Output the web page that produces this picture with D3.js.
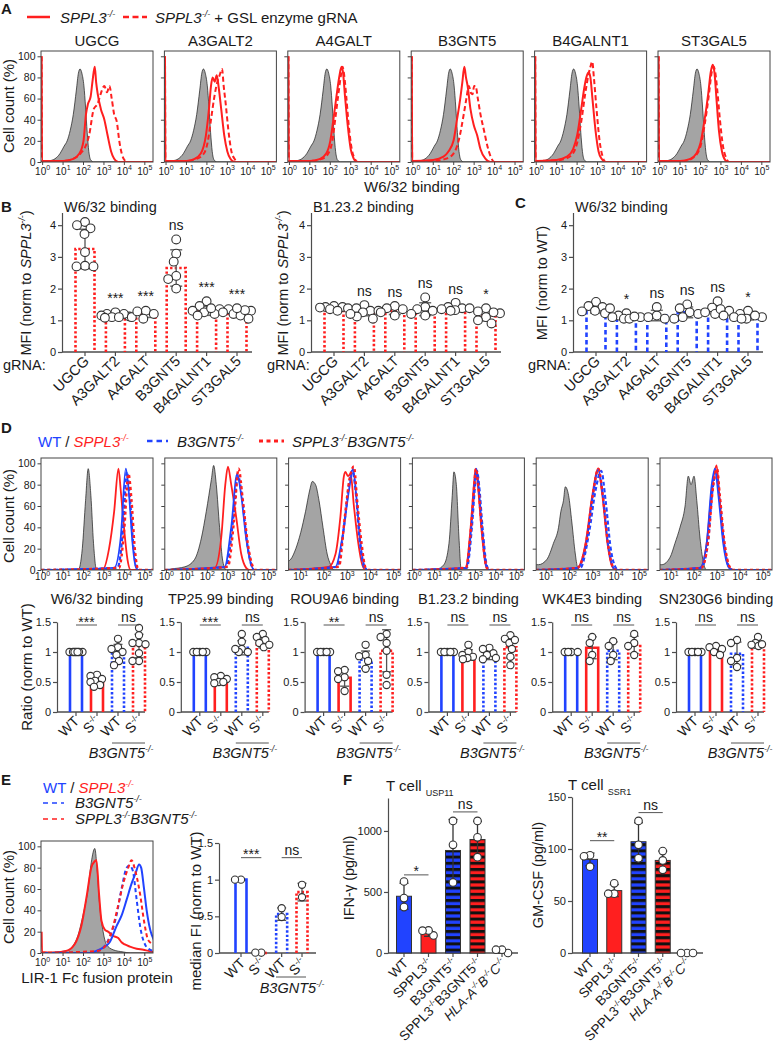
<!DOCTYPE html>
<html><head><meta charset="utf-8">
<script src="https://cdn.jsdelivr.net/npm/d3@7"></script>
<style>body{margin:0;background:#fff}svg{display:block}</style>
</head><body><svg id="chart" width="781" height="1050"></svg>
<script>
// ================= DATA =================
// Panel A: histograms [log10 fluorescence, % of max]
const aTitles = ["UGCG","A3GALT2","A4GALT","B3GNT5","B4GALNT1","ST3GAL5"];
const aGray = [[-0.08,0],[0.3,1],[0.6,3],[0.85,8],[1.05,15],[1.2,20],[1.35,30],[1.5,45],[1.65,68],[1.75,84],[1.83,88],[1.92,84],[2.02,72],[2.1,52],[2.18,28],[2.26,10],[2.35,2],[2.5,0],[5.4,0]];
const aSolid = [
 [[-0.05,100],[-0.03,1],[1.0,1],[1.5,3],[1.8,8],[2.0,20],[2.12,45],[2.22,55],[2.35,62],[2.45,78],[2.55,90],[2.62,75],[2.69,65],[2.85,50],[3.02,40],[3.18,25],[3.35,10],[3.5,3],[3.7,0],[5.4,0]],
 [[-0.05,100],[-0.03,1],[1.0,1],[1.4,3],[1.7,8],[1.95,25],[2.1,50],[2.2,72],[2.28,80],[2.38,76],[2.48,82],[2.58,70],[2.7,50],[2.85,25],[3.0,10],[3.15,3],[3.35,0],[5.4,0]],
 [[-0.05,100],[-0.03,1],[1.0,1],[1.5,3],[1.8,8],[2.0,20],[2.15,40],[2.3,62],[2.45,82],[2.55,90],[2.62,85],[2.72,62],[2.85,35],[3.0,12],[3.15,3],[3.3,0],[5.4,0]],
 [[-0.05,100],[-0.03,1],[1.0,2],[1.5,5],[1.74,10],[1.99,20],[2.16,40],[2.32,60],[2.42,75],[2.52,90],[2.6,80],[2.68,72],[2.82,50],[2.98,35],[3.15,25],[3.31,12],[3.56,3],[3.8,0],[5.4,0]],
 [[-0.05,100],[-0.03,1],[1.0,2],[1.5,5],[1.8,12],[2.0,25],[2.2,50],[2.35,70],[2.45,80],[2.57,85],[2.65,80],[2.75,60],[2.9,30],[3.05,10],[3.2,3],[3.4,0],[5.4,0]],
 [[-0.05,100],[-0.03,1],[1.0,1],[1.5,3],[1.8,8],[2.0,18],[2.2,40],[2.38,65],[2.5,85],[2.6,92],[2.68,85],[2.78,60],[2.9,30],[3.05,10],[3.2,2],[3.35,0],[5.4,0]]
];
const aDashed = [
 [[-0.05,100],[-0.03,1],[1.0,1],[1.35,2],[1.85,8],[2.1,15],[2.27,25],[2.5,50],[2.69,55],[2.85,65],[3.02,72],[3.15,66],[3.27,72],[3.38,60],[3.5,45],[3.63,38],[3.75,20],[3.87,8],[4.0,2],[4.2,0],[5.4,0]],
 [[-0.05,100],[-0.03,1],[1.0,1],[1.5,3],[1.85,8],[2.05,20],[2.2,40],[2.35,60],[2.5,75],[2.62,82],[2.74,88],[2.82,72],[2.92,55],[3.05,30],[3.2,10],[3.35,3],[3.5,0],[5.4,0]],
 [[-0.05,100],[-0.03,1],[1.0,1],[1.6,3],[1.9,8],[2.1,20],[2.25,42],[2.4,65],[2.52,82],[2.6,90],[2.68,82],[2.78,62],[2.9,35],[3.05,12],[3.2,3],[3.35,0],[5.4,0]],
 [[-0.05,100],[-0.03,1],[1.0,1],[1.6,3],[1.99,8],[2.24,20],[2.49,45],[2.62,60],[2.74,72],[2.85,65],[2.92,64],[3.0,72],[3.07,72],[3.18,60],[3.31,45],[3.48,30],[3.65,15],[3.81,5],[4.0,0],[5.4,0]],
 [[-0.05,100],[-0.03,1],[1.2,2],[1.7,6],[2.0,18],[2.2,38],[2.4,65],[2.55,82],[2.65,90],[2.74,95],[2.82,80],[2.95,50],[3.1,20],[3.25,5],[3.4,0],[5.4,0]],
 [[-0.05,100],[-0.03,1],[1.2,1],[1.7,5],[2.0,15],[2.2,35],[2.4,62],[2.55,85],[2.65,90],[2.72,85],[2.82,68],[2.95,40],[3.1,15],[3.25,4],[3.4,0],[5.4,0]]
];
const histTicksFull = [0,1,2,3,4,5];
const histTicksShort = [1,2,3,4,5];
const histYTicks = [0,20,40,60,80,100];

// Panel B / C
const bCats = ["UGCG","A3GALT2","A4GALT","B3GNT5","B4GALNT1","ST3GAL5"];
const bTicks = [0,1,2,3,4];
const bW6Bars = [3.25,1.1,1.2,2.65,1.3,1.2];
const bW6Pts = [[4.1,4.0,3.9,3.72,3.15,2.72,2.7,2.7],[1.12,1.2,1.25,1.2,1.1,1.1,1.15,1.08],[1.3,1.2,1.1,1.28,1.05],[3.55,3.1,2.85,2.4,2.3,2.0],[1.6,1.45,1.35,1.3,1.25,1.2,1.15,1.38],[1.35,1.3,1.25,1.2,1.15,1.05,1.32,1.38]];
const bW6Sig = ["","***","***","ns","***","***"];
const bB1Bars = [1.38,1.28,1.3,1.35,1.35,1.15];
const bB1Pts = [[1.45,1.42,1.42,1.38,1.35,1.3,1.4],[1.48,1.38,1.3,1.25,1.12,1.05,1.3,1.2],[1.45,1.38,1.25,1.15,1.35],[1.72,1.42,1.35,1.3,1.2,1.15],[1.55,1.42,1.38,1.32,1.35,1.3,1.38],[1.38,1.28,1.22,1.1,1.0,0.9,1.25]];
const bB1Sig = ["","ns","ns","ns","ns","*"];
const cBars = [1.35,1.1,1.15,1.25,1.3,1.1];
const cPts = [[1.58,1.45,1.42,1.3,1.22,1.28,1.38],[1.22,1.15,1.1,1.05,1.05,1.1,1.12],[1.42,1.15,1.05,1.1],[1.5,1.38,1.25,1.1,1.05,1.2],[1.6,1.4,1.3,1.25,1.2,1.35,1.15],[1.3,1.2,1.1,1.05,1.1,1.15,1.05]];
const cSig = ["","*","ns","ns","ns","*"];

// Panel D histograms
const dTitles = ["W6/32 binding","TP25.99 binding","ROU9A6 binding","B1.23.2 binding","WK4E3 binding","SN230G6 binding"];
const dDomains = [[-0.08,5.4],[-0.08,5.4],[0.48,5.3],[-0.08,5.4],[0.57,5.38],[0.52,5.39]];
const dGray = [
 [[-0.08,0],[1.74,0],[1.94,20],[2.1,65],[2.23,95],[2.36,70],[2.49,25],[2.64,0],[5.4,0]],
 [[-0.08,0],[0.24,1],[0.9,3],[1.38,10],[1.71,30],[1.95,55],[2.2,85],[2.31,98],[2.44,80],[2.6,40],[2.76,8],[2.93,0],[5.4,0]],
 [[0.45,8],[0.57,10],[0.79,20],[1.0,35],[1.21,55],[1.39,75],[1.5,83],[1.64,80],[1.79,65],[1.96,40],[2.14,15],[2.29,5],[2.43,0],[5.4,0]],
 [[-0.08,0],[1.14,1],[1.46,5],[1.71,25],[1.87,70],[1.95,92],[2.07,80],[2.2,30],[2.31,0],[5.4,0]],
 [[0.55,5],[0.67,5],[1.03,10],[1.31,25],[1.53,40],[1.63,55],[1.74,65],[1.82,78],[1.96,70],[2.1,45],[2.25,15],[2.34,3],[2.45,0],[5.4,0]],
 [[0.5,5],[0.6,5],[0.96,12],[1.17,25],[1.39,40],[1.61,60],[1.75,88],[1.87,80],[2.0,88],[2.12,65],[2.26,30],[2.4,8],[2.55,0],[5.4,0]]
];
const dRedSolid = [
 [[-0.08,0],[2.93,0],[3.25,20],[3.5,55],[3.71,95],[3.82,75],[3.98,40],[4.15,10],[4.31,0],[5.4,0]],
 [[-0.08,0],[2.36,2],[2.68,30],[2.88,80],[3.01,97],[3.17,80],[3.41,50],[3.66,15],[3.9,2],[4.05,0],[5.4,0]],
 [[0.45,0],[2.21,3],[2.5,15],[2.71,50],[2.86,88],[2.93,92],[3.03,88],[3.15,90],[3.29,60],[3.48,25],[3.65,5],[3.8,0],[5.4,0]],
 [[-0.08,0],[2.52,2],[2.77,40],[2.93,80],[3.01,95],[3.12,80],[3.29,40],[3.5,5],[3.62,0],[5.4,0]],
 [[0.55,0],[2.32,2],[2.69,25],[2.98,70],[3.22,95],[3.41,70],[3.63,25],[3.84,3],[4.0,0],[5.4,0]],
 [[0.5,0],[2.26,2],[2.55,25],[2.8,80],[2.98,98],[3.1,70],[3.3,25],[3.52,3],[3.7,0],[5.4,0]]
];
const dBlueSolid = [
 [[-0.08,0],[3.5,2],[3.82,30],[4.07,95],[4.23,70],[4.4,25],[4.56,3],[4.7,0],[5.4,0]],
 [[-0.08,0],[2.85,3],[3.17,40],[3.46,90],[3.66,70],[3.9,30],[4.15,5],[4.3,0],[5.4,0]],
 [[0.45,0],[2.5,3],[2.79,30],[3.08,75],[3.25,95],[3.39,70],[3.57,25],[3.76,3],[3.9,0],[5.4,0]],
 [[-0.08,0],[2.55,2],[2.8,40],[2.96,80],[3.05,95],[3.15,80],[3.32,40],[3.52,5],[3.65,0],[5.4,0]],
 [[0.55,0],[2.35,2],[2.72,25],[3.0,70],[3.24,94],[3.43,70],[3.65,25],[3.86,3],[4.0,0],[5.4,0]],
 [[0.5,0],[2.26,2],[2.55,25],[2.77,80],[2.91,95],[3.06,70],[3.27,25],[3.49,3],[3.65,0],[5.4,0]]
];
const dBlueDashed = [
 [[-0.08,0],[3.66,2],[3.94,40],[4.12,92],[4.26,70],[4.43,25],[4.6,2],[4.75,0],[5.4,0]],
 [[-0.08,0],[2.93,3],[3.25,45],[3.5,88],[3.69,70],[3.95,25],[4.18,3],[4.3,0],[5.4,0]],
 [[0.45,0],[2.57,3],[2.86,40],[3.08,80],[3.22,93],[3.36,75],[3.53,30],[3.72,3],[3.85,0],[5.4,0]],
 [[-0.08,0],[2.58,2],[2.83,40],[2.99,80],[3.08,93],[3.18,80],[3.35,40],[3.55,5],[3.68,0],[5.4,0]],
 [[0.55,0],[2.46,2],[2.84,35],[3.12,75],[3.36,93],[3.55,65],[3.77,20],[3.99,2],[4.1,0],[5.4,0]],
 [[0.5,0],[2.3,2],[2.6,25],[2.82,78],[2.95,90],[3.1,70],[3.3,25],[3.52,3],[3.68,0],[5.4,0]]
];
const dRedDashed = [
 [[-0.08,0],[3.74,2],[3.98,35],[4.2,90],[4.35,65],[4.51,20],[4.69,0],[5.4,0]],
 [[-0.08,0],[3.0,3],[3.3,45],[3.53,95],[3.74,65],[3.98,25],[4.23,3],[4.35,0],[5.4,0]],
 [[0.45,0],[2.64,3],[2.9,50],[3.1,85],[3.29,97],[3.43,65],[3.62,25],[3.79,2],[3.9,0],[5.4,0]],
 [[-0.08,0],[2.54,2],[2.79,40],[2.95,80],[3.03,95],[3.14,80],[3.31,40],[3.52,5],[3.65,0],[5.4,0]],
 [[0.55,0],[2.34,2],[2.71,25],[3.0,70],[3.24,95],[3.43,70],[3.65,25],[3.86,3],[4.0,0],[5.4,0]],
 [[0.5,0],[2.32,2],[2.6,25],[2.84,80],[3.0,95],[3.12,70],[3.33,25],[3.55,3],[3.72,0],[5.4,0]]
];

// Panel D bar charts
const dTicks = [0,0.5,1,1.5];
const dBars = [[1,0.5,0.98,1.1],[1,0.52,1.07,1.15],[1,0.57,0.87,1.02],[1,0.95,0.95,1.08],[1,1.07,1.02,1.12],[1,1.03,0.97,1.12]];
const dPts = [
 [[1,1,1,1,1,1,1],[0.62,0.6,0.55,0.52,0.5,0.45,0.42],[1.22,1.08,1.05,1.0,0.95,0.85,0.78],[1.4,1.28,1.15,1.13,1.15,0.98,0.85,0.85]],
 [[1,1,1,1,1],[0.6,0.58,0.55,0.5,0.5,0.48],[1.3,1.17,1.05,1.0,1.0,1.05],[1.3,1.25,1.2,1.15,1.08,1.12]],
 [[1,1,1,1,1],[0.7,0.68,0.58,0.55,0.35],[1.12,0.95,0.93,0.85,0.72],[1.3,1.25,1.15,1.02,0.62,0.45]],
 [[1,1,1,1,1],[1.12,1.0,0.95,0.92,0.9,0.88],[1.07,1.05,0.98,0.95,0.9,0.88],[1.28,1.22,1.15,1.05,0.92,0.78,1.2]],
 [[1,1,1,1],[1.25,1.15,0.95,0.85],[1.18,1.1,0.95,0.85],[1.3,1.15,1.1,0.95]],
 [[1,1,1,1,1],[1.1,1.08,1.05,1.0,0.95],[1.2,1.15,0.9,0.85,0.75],[1.25,1.15,1.1,1.12,1.13]]
];
const dSig = [["***","ns"],["***","ns"],["**","ns"],["ns","ns"],["ns","ns"],["ns","ns"]];

// Panel E
const eGray = [[-0.08,0],[1.15,2],[1.64,12],[1.97,35],[2.22,60],[2.38,85],[2.55,98],[2.68,75],[2.79,45],[2.96,20],[3.12,8],[3.45,3],[3.94,1],[4.3,0],[5.4,0]];
const eRedSolid = [[-0.05,20],[-0.03,1],[0.5,0.5],[1.15,2],[1.56,8],[1.89,25],[2.17,55],[2.38,80],[2.55,86],[2.63,87],[2.76,55],[2.88,30],[3.04,22],[3.2,20],[3.45,16],[3.7,14],[3.86,10],[4.02,8],[4.27,6],[4.6,4],[4.93,3],[5.17,2],[5.45,1]];
const eBlueSolid = [[-0.08,0],[2.3,0],[2.63,2],[2.96,5],[3.28,10],[3.61,25],[3.86,35],[4.11,50],[4.35,65],[4.55,75],[4.72,83],[4.82,80],[4.95,62],[5.09,40],[5.26,22],[5.45,12]];
const eBlueDashed = [[-0.08,0],[2.55,1],[2.96,5],[3.28,15],[3.61,35],[3.86,60],[4.11,80],[4.24,82],[4.4,78],[4.6,50],[4.77,25],[5.01,8],[5.26,3],[5.45,2]];
const eRedDashed = [[-0.08,0],[2.71,2],[3.12,8],[3.45,25],[3.7,45],[3.94,65],[4.19,80],[4.35,87],[4.52,78],[4.77,55],[4.96,30],[5.17,12],[5.45,8]];
const eBars = [1.0,0,0.53,0.83];
const ePts = [[1,1],[0.005,0.005],[0.61,0.49],[0.93,0.76]];
const eSig = ["***","ns"];

// Panel F
const fIfnBars = [465,160,840,930,5];
const fIfnPts = [[586,450,376],[144,185,183],[1082,886,578],[1082,948,785],[0,27,27]];
const fIfnTicks = [0,500,1000];
const fIfnSig = ["*","ns"];
const fIfnSigLevel = [640,1156];
const fGmBars = [90,60,107,89,0];
const fGmPts = [[94,93,83],[67,57,57],[127,104,91],[98,89,80],[0,0,0]];
const fGmTicks = [0,50,100,150];
const fGmSig = ["**","ns"];
const fGmSigLevel = [108,135];

// ================= DRAWING =================
const svg = d3.select("#chart");
const FONT = "Arial, 'Liberation Sans', Helvetica, sans-serif";
const RED = "#ff1f1f", BLUE = "#2143ff", AXC = "#4d4d4d", TXT = "#1a1a1a";
svg.append("rect").attr("width",781).attr("height",1050).attr("fill","#fff");
const defs = svg.append("defs");
let clipN = 0;

function txt(g, x, y, size, o = {}) {
  const t = g.append("text").attr("x", x).attr("y", y).attr("font-size", size)
    .attr("font-family", FONT).attr("fill", o.fill || TXT);
  if (o.anchor) t.attr("text-anchor", o.anchor);
  if (o.weight) t.attr("font-weight", o.weight);
  if (o.style) t.attr("font-style", o.style);
  if (o.transform) t.attr("transform", o.transform);
  return t;
}
function rich(t, parts) {
  const fs = +t.attr("font-size"); let cur = 0;
  parts.forEach(p => {
    const s = t.append("tspan").text(p.t);
    const target = p.sup ? -0.42 * fs : p.sub ? 0.32 * fs : 0;
    if (target !== cur) s.attr("dy", target - cur);
    cur = target;
    if (p.sup || p.sub) s.attr("font-size", fs * (p.scale || 0.6));
    if (p.i) s.attr("font-style", "italic");
    if (p.c) s.attr("fill", p.c);
  });
  return t;
}
const ko = (name, italic, color) => [{t: name, i: italic, c: color}, {t: "-/-", sup: true, i: italic, c: color}];

function yAxis(g, y, x, ticks, fmt, fs, showLabels = true) {
  const a = g.append("g").attr("transform", `translate(${x},0)`)
    .call(d3.axisLeft(y).tickValues(ticks).tickSize(4).tickSizeOuter(0).tickPadding(2)
      .tickFormat(showLabels ? fmt : () => ""));
  a.select(".domain").attr("stroke", AXC).attr("stroke-width", 1.2);
  a.selectAll(".tick line").attr("stroke", AXC).attr("stroke-width", 1.2);
  a.selectAll("text").attr("font-size", fs).attr("font-family", FONT).attr("fill", TXT);
  return a;
}
function xAxisLine(g, x1, x2, yy, tickXs) {
  g.append("line").attr("x1", x1).attr("x2", x2).attr("y1", yy).attr("y2", yy)
    .attr("stroke", AXC).attr("stroke-width", 1.3);
  tickXs.forEach(tx => g.append("line").attr("x1", tx).attr("x2", tx).attr("y1", yy).attr("y2", yy + 4)
    .attr("stroke", AXC).attr("stroke-width", 1.2));
}
function rotLabel(g, x, y, parts, fs) {
  const t = g.append("text").attr("transform", `translate(${x},${y}) rotate(-45)`)
    .attr("text-anchor", "end").attr("font-size", fs).attr("font-family", FONT).attr("fill", TXT);
  rich(t, parts);
}
function vLabel(g, x, y, parts, fs) {
  const t = g.append("text").attr("transform", `translate(${x},${y}) rotate(-90)`)
    .attr("text-anchor", "middle").attr("font-size", fs).attr("font-family", FONT).attr("fill", TXT);
  rich(t, parts);
}
function swarm(vals, y, cx, minD, maxS) {
  const idx = vals.map((v, i) => i).sort((a, b) => vals[b] - vals[a]);
  const placed = [], out = new Array(vals.length);
  idx.forEach(i => {
    const yy = y(vals[i]);
    let best = null, bestScore = -1;
    for (let k = 0; Math.ceil(k / 2) * 0.5 <= maxS; k++) {
      const off = (k % 2 === 1 ? -1 : 1) * Math.ceil(k / 2) * 0.5;
      const xx = cx + off;
      const md = placed.length ? d3.min(placed, p => Math.hypot(p[0] - xx, p[1] - yy)) : Infinity;
      if (md >= minD) { best = [xx, yy]; break; }
      if (md > bestScore) { bestScore = md; best = [xx, yy]; }
    }
    placed.push(best); out[i] = best;
  });
  return out;
}
function errBar(g, y, cx, v, pts, capW, color, wid) {
  const sd = d3.deviation(pts) || 0;
  if (sd < 0.005 * (y.domain()[1])) return;
  const y1 = y(Math.max(0, v - sd)), y2 = y(v + sd);
  g.append("line").attr("x1", cx).attr("x2", cx).attr("y1", y1).attr("y2", y2).attr("stroke", color).attr("stroke-width", wid);
  [y1, y2].forEach(yy => g.append("line").attr("x1", cx - capW / 2).attr("x2", cx + capW / 2).attr("y1", yy).attr("y2", yy)
    .attr("stroke", color).attr("stroke-width", wid));
}
function dots(g, coords, r) {
  coords.forEach(c => g.append("circle").attr("cx", c[0]).attr("cy", c[1]).attr("r", r)
    .attr("fill", "#fff").attr("stroke", "#333").attr("stroke-width", 1.1));
}

// ---------- histogram ----------
function hist(o) {
  const g = svg.append("g");
  const x = d3.scaleLinear().domain(o.dom).range([o.x0, o.x0 + o.w]);
  const y = d3.scaleLinear().domain([0, 105]).range([o.y0 + o.h, o.y0]);
  const id = "clip" + (clipN++);
  defs.append("clipPath").attr("id", id).append("rect").attr("x", o.x0).attr("y", o.y0).attr("width", o.w).attr("height", o.h);
  const pg = g.append("g").attr("clip-path", `url(#${id})`);
  const area = d3.area().x(d => x(d[0])).y0(y(0)).y1(d => y(d[1])).curve(d3.curveMonotoneX);
  pg.append("path").datum(o.gray).attr("d", area).attr("fill", "#a4a4a4").attr("stroke", "#1a1a1a").attr("stroke-width", 0.7);
  const line = d3.line().x(d => x(d[0])).y(d => y(d[1])).curve(d3.curveMonotoneX);
  o.lines.forEach(l => pg.append("path").datum(l.d).attr("d", line).attr("fill", "none")
    .attr("stroke", l.c).attr("stroke-width", l.w || 2).attr("stroke-dasharray", l.dash || null)
    .attr("stroke-linejoin", "round"));
  g.append("rect").attr("x", o.x0).attr("y", o.y0).attr("width", o.w).attr("height", o.h)
    .attr("fill", "none").attr("stroke", "#444").attr("stroke-width", 1);
  const ya = g.append("g").attr("transform", `translate(${o.x0},0)`)
    .call(d3.axisLeft(y).tickValues(histYTicks).tickSize(3.5).tickSizeOuter(0).tickPadding(2)
      .tickFormat(o.yLabels ? d3.format("d") : () => ""));
  ya.select(".domain").remove();
  ya.selectAll("line").attr("stroke", "#444");
  ya.selectAll("text").attr("font-size", 10.5).attr("font-family", FONT).attr("fill", TXT);
  o.ticks.forEach(v => {
    g.append("line").attr("x1", x(v)).attr("x2", x(v)).attr("y1", o.y0 + o.h).attr("y2", o.y0 + o.h + 3).attr("stroke", "#444");
    rich(txt(g, x(v), o.y0 + o.h + o.lblDy, 10, {anchor: "middle"}), [{t: "10"}, {t: String(v), sup: true, scale: 0.7}]);
  });
}

// ---------- grouped bar/dot chart ----------
function groupChart(o) {
  const g = svg.append("g");
  const y = d3.scaleLinear().domain(o.dom).range([o.y0, o.yTop]);
  const n = o.bars.length;
  const x = d3.scalePoint().domain(d3.range(n)).range([o.ax + o.first, o.ax + o.last]);
  yAxis(g, y, o.ax, o.ticks, d3.format(""), o.tickFs);
  xAxisLine(g, o.ax, o.ax + o.len, o.y0, d3.range(n).map(i => x(i)));
  o.bars.forEach((v, i) => {
    const cx = x(i), w = o.barW, s = o.styles[i];
    if (s.fill) {
      g.append("rect").attr("x", cx - w / 2).attr("y", y(v)).attr("width", w).attr("height", o.y0 - y(v))
        .attr("fill", s.fill).attr("stroke", "#333").attr("stroke-width", 1);
    } else {
      g.append("path").attr("d", `M${cx - w / 2 + 1},${o.y0}V${y(v)}H${cx + w / 2 - 1}V${o.y0}`)
        .attr("fill", "none").attr("stroke", s.c).attr("stroke-width", 2.6).attr("stroke-dasharray", s.dash || null);
    }
  });
  o.bars.forEach((v, i) => errBar(g, y, x(i), v, o.pts[i], o.capW, o.errC, 1.3));
  o.pts.forEach((p, i) => dots(g, swarm(p, y, x(i), o.r * 1.8, o.spread), o.r));
  o.sig.forEach(s => {
    const ly = y(s.lv), x1 = x(s.a), x2 = x(s.b);
    g.append("line").attr("x1", x1).attr("x2", x2).attr("y1", ly).attr("y2", ly).attr("stroke", "#555").attr("stroke-width", 1);
    const stars = s.t.indexOf("*") >= 0;
    txt(g, (x1 + x2) / 2, stars ? ly + 1.5 : ly - 3, 14, {anchor: "middle"}).text(s.t);
  });
  o.labels.forEach((parts, i) => rotLabel(g, x(i) + o.lblDx, o.y0 + o.lblDy, parts, o.lblFs));
  return {g, x, y};
}

// ---------- category chart (B, C) ----------
function catChart(o) {
  const g = svg.append("g");
  const y = d3.scaleLinear().domain([0, 4.4]).range([352, 212.5]);
  const x = d3.scalePoint().domain(bCats).range([o.ax + 23, o.ax + 175]);
  yAxis(g, y, o.ax, bTicks, d3.format("d"), 11);
  xAxisLine(g, o.ax, o.ax + 190, 352, bCats.map(c => x(c)));
  bCats.forEach((c, i) => {
    const cx = x(c), v = o.bars[i], w = 19;
    g.append("path").attr("d", `M${cx - w / 2},352V${y(v)}H${cx + w / 2}V352`)
      .attr("fill", "none").attr("stroke", o.color).attr("stroke-width", 2.6).attr("stroke-dasharray", o.dash);
  });
  bCats.forEach((c, i) => errBar(g, y, x(c), o.bars[i], o.pts[i], 12, "#6a6a6a", 1.5));
  bCats.forEach((c, i) => dots(g, swarm(o.pts[i], y, x(c), 8.2, 14), 4.4));
  bCats.forEach((c, i) => {
    if (!o.sig[i]) return;
    const sd = d3.deviation(o.pts[i]) || 0;
    const top = Math.max(d3.max(o.pts[i]), o.bars[i] + sd);
    txt(g, x(c), y(top) - 9, 14, {anchor: "middle"}).text(o.sig[i]);
  });
  bCats.forEach(c => rotLabel(g, x(c) + 5, 362, [{t: c}], 14.5));
  txt(g, o.ax + 2, 212, 14.5).text(o.title);
  vLabel(g, o.ylx, 283, o.ylabel, 14.5);
  txt(g, o.gx, 370, 14.5).text("gRNA:");
}

// ================= PANEL A =================
txt(svg, 1, 14, 15, {weight: "bold"}).text("A");
svg.append("line").attr("x1", 27).attr("x2", 50).attr("y1", 17).attr("y2", 17).attr("stroke", RED).attr("stroke-width", 2.5);
rich(txt(svg, 60, 23, 15), ko("SPPL3", true));
svg.append("line").attr("x1", 123).attr("x2", 147).attr("y1", 17).attr("y2", 17).attr("stroke", RED).attr("stroke-width", 2.5).attr("stroke-dasharray", "6,3.5");
rich(txt(svg, 155, 23, 15), [...ko("SPPL3", true), {t: " + GSL enzyme gRNA"}]);
aTitles.forEach((t, i) => {
  const x0 = 41 + i * 123.4;
  hist({x0, y0: 51, w: 112, h: 111, dom: [-0.08, 5.4], ticks: histTicksFull, yLabels: i === 0, lblDy: 12.5,
    gray: aGray, lines: [{d: aSolid[i], c: RED, w: 2}, {d: aDashed[i], c: RED, w: 2, dash: "5,3"}]});
  txt(svg, x0 + 56, 46, 15, {anchor: "middle"}).text(t);
});
vLabel(svg, 14, 106, [{t: "Cell count (%)"}], 15);
txt(svg, 412, 192, 15, {anchor: "middle"}).text("W6/32 binding");

// ================= PANEL B / C =================
txt(svg, 1, 212, 15, {weight: "bold"}).text("B");
catChart({ax: 62, bars: bW6Bars, pts: bW6Pts, sig: bW6Sig, color: RED, dash: "2.4,2.2", title: "W6/32 binding",
  ylx: 31, ylabel: [{t: "MFI (norm to "}, ...ko("SPPL3", true), {t: ")"}], gx: 3});
catChart({ax: 311, bars: bB1Bars, pts: bB1Pts, sig: bB1Sig, color: RED, dash: "2.4,2.2", title: "B1.23.2 binding",
  ylx: 288, ylabel: [{t: "MFI (norm to "}, ...ko("SPPL3", true), {t: ")"}], gx: 267});
txt(svg, 515, 208, 15, {weight: "bold"}).text("C");
catChart({ax: 573, bars: cBars, pts: cPts, sig: cSig, color: BLUE, dash: "4.5,3", title: "W6/32 binding",
  ylx: 547, ylabel: [{t: "MFI (norm to WT)"}], gx: 528});

// ================= PANEL D =================
txt(svg, 1, 433, 15, {weight: "bold"}).text("D");
rich(txt(svg, 38, 447, 15), [{t: "WT", c: BLUE}, {t: " / "}, ...ko("SPPL3", true, RED)]);
svg.append("line").attr("x1", 147).attr("x2", 168).attr("y1", 441).attr("y2", 441).attr("stroke", BLUE).attr("stroke-width", 2.5).attr("stroke-dasharray", "5.5,4");
rich(txt(svg, 177, 447, 15), ko("B3GNT5", true));
svg.append("line").attr("x1", 259).attr("x2", 284).attr("y1", 441).attr("y2", 441).attr("stroke", RED).attr("stroke-width", 3).attr("stroke-dasharray", "4,3.5");
rich(txt(svg, 292, 447, 15), [...ko("SPPL3", true), ...ko("B3GNT5", true)]);

dTitles.forEach((t, i) => {
  const x0 = 41 + i * 123.8;
  hist({x0, y0: 458, w: 112, h: 112, dom: dDomains[i], ticks: dDomains[i][0] > 0 ? histTicksShort : histTicksFull,
    yLabels: i === 0, lblDy: 10, gray: dGray[i],
    lines: [{d: dRedSolid[i], c: RED, w: 1.8}, {d: dBlueSolid[i], c: BLUE, w: 1.8},
            {d: dBlueDashed[i], c: BLUE, w: 2.2, dash: "4,2.5"}, {d: dRedDashed[i], c: RED, w: 2.4, dash: "3,3"}]});
  txt(svg, x0 + 56, 604, 14.5, {anchor: "middle"}).text(t);
});
vLabel(svg, 14, 516, [{t: "Cell count (%)"}], 15);

const dStyles = [{c: BLUE}, {c: RED}, {c: BLUE, dash: "2.4,2"}, {c: RED, dash: "2.4,2"}];
const dLabels = [[{t: "WT"}], [{t: "S"}, {t: "-/-", sup: true}], [{t: "WT"}], [{t: "S"}, {t: "-/-", sup: true}]];
dTitles.forEach((t, i) => {
  const ax = 57 + i * 123.8;
  const r = groupChart({ax, len: 88, y0: 712, yTop: 622, dom: [0, 1.5], ticks: dTicks, tickFs: 11,
    first: 19, last: 82, bars: dBars[i], pts: dPts[i], styles: dStyles, barW: 14, r: 3.6, spread: 6.5,
    capW: 9, errC: "#555",
    sig: [{a: 0, b: 1, t: dSig[i][0], lv: 1.45}, {a: 2, b: 3, t: dSig[i][1], lv: 1.45}],
    labels: dLabels, lblDx: 4, lblDy: 10, lblFs: 14});
  r.g.append("line").attr("x1", ax + 55).attr("x2", ax + 88).attr("y1", 743).attr("y2", 743).attr("stroke", "#555").attr("stroke-width", 1);
  rich(txt(r.g, ax + 64, 758, 14.5, {anchor: "middle"}), ko("B3GNT5", true));
});
vLabel(svg, 32, 667, [{t: "Ratio (norm to WT)"}], 15);

// ================= PANEL E =================
txt(svg, 1, 785, 15, {weight: "bold"}).text("E");
rich(txt(svg, 43, 793, 15), [{t: "WT", c: BLUE}, {t: " / "}, ...ko("SPPL3", true, RED)]);
svg.append("line").attr("x1", 43).attr("x2", 64).attr("y1", 803).attr("y2", 803).attr("stroke", BLUE).attr("stroke-width", 1.5).attr("stroke-dasharray", "5,4");
rich(txt(svg, 75, 808, 15), ko("B3GNT5", true));
svg.append("line").attr("x1", 43).attr("x2", 64).attr("y1", 819).attr("y2", 819).attr("stroke", RED).attr("stroke-width", 1.5).attr("stroke-dasharray", "5,4");
rich(txt(svg, 75, 824, 15), [...ko("SPPL3", true), ...ko("B3GNT5", true)]);
hist({x0: 41, y0: 841, w: 112, h: 112, dom: [-0.08, 5.4], ticks: histTicksFull, yLabels: true, lblDy: 13,
  gray: eGray, lines: [{d: eRedSolid, c: RED, w: 2}, {d: eBlueSolid, c: BLUE, w: 2},
                       {d: eBlueDashed, c: BLUE, w: 2, dash: "4,3"}, {d: eRedDashed, c: RED, w: 2, dash: "4,3"}]});
vLabel(svg, 14, 897, [{t: "Cell count (%)"}], 15);
txt(svg, 97, 983, 15, {anchor: "middle"}).text("LIR-1 Fc fusion protein");
{
  const r = groupChart({ax: 219, len: 97, y0: 953, yTop: 843, dom: [0, 1.5], ticks: dTicks, tickFs: 11,
    first: 22, last: 83, bars: eBars, pts: ePts, styles: dStyles, barW: 13, r: 3.6, spread: 6,
    capW: 9, errC: "#555",
    sig: [{a: 0, b: 1, t: eSig[0], lv: 1.3}, {a: 2, b: 3, t: eSig[1], lv: 1.3}],
    labels: dLabels, lblDx: 5, lblDy: 11, lblFs: 14});
  r.g.append("line").attr("x1", 276).attr("x2", 306).attr("y1", 977).attr("y2", 977).attr("stroke", "#555").attr("stroke-width", 1);
  rich(txt(r.g, 292, 993, 14.5, {anchor: "middle"}), ko("B3GNT5", true));
}
vLabel(svg, 201, 911, [{t: "median FI (norm to WT)"}], 15);

// ================= PANEL F =================
txt(svg, 343, 785, 15, {weight: "bold"}).text("F");
function stripe(id, color) {
  const p = defs.append("pattern").attr("id", id).attr("patternUnits", "userSpaceOnUse").attr("width", 10).attr("height", 6.2);
  p.append("rect").attr("width", 10).attr("height", 6.2).attr("fill", color);
  p.append("rect").attr("width", 10).attr("height", 3).attr("fill", "#111");
}
stripe("stripeB", BLUE); stripe("stripeR", RED);
const fStyles = [{fill: BLUE}, {fill: RED}, {fill: "url(#stripeB)"}, {fill: "url(#stripeR)"}, {fill: "#555"}];
const fLabels = [[{t: "WT"}], ko("SPPL3", false), ko("B3GNT5", false), [...ko("SPPL3", false), ...ko("B3GNT5", false)],
  [...ko("HLA-A", true), ...ko("B", true), ...ko("C", true)]];
groupChart({ax: 388, len: 130, y0: 953, yTop: 798, dom: [0, 1270], ticks: fIfnTicks, tickFs: 11,
  first: 16, last: 114, bars: fIfnBars, pts: fIfnPts, styles: fStyles, barW: 15, r: 3.8, spread: 6,
  capW: 9, errC: "#333",
  sig: [{a: 0, b: 1, t: fIfnSig[0], lv: fIfnSigLevel[0]}, {a: 2, b: 3, t: fIfnSig[1], lv: fIfnSigLevel[1]}],
  labels: fLabels, lblDx: 5, lblDy: 11, lblFs: 13.5});
rich(txt(svg, 386, 791, 15), [{t: "T cell "}, {t: "USP11", sub: true, scale: 0.6}]);
vLabel(svg, 354, 878, [{t: "IFN-γ (pg/ml)"}], 14.5);
groupChart({ax: 572, len: 131, y0: 953, yTop: 797, dom: [0, 150], ticks: fGmTicks, tickFs: 11,
  first: 18, last: 115, bars: fGmBars, pts: fGmPts, styles: fStyles, barW: 15, r: 3.8, spread: 6,
  capW: 9, errC: "#333",
  sig: [{a: 0, b: 1, t: fGmSig[0], lv: fGmSigLevel[0]}, {a: 2, b: 3, t: fGmSig[1], lv: fGmSigLevel[1]}],
  labels: fLabels, lblDx: 5, lblDy: 11, lblFs: 13.5});
rich(txt(svg, 568, 790, 15), [{t: "T cell "}, {t: "SSR1", sub: true, scale: 0.6}]);
vLabel(svg, 543, 875, [{t: "GM-CSF (pg/ml)"}], 14.5);
</script></body></html>
